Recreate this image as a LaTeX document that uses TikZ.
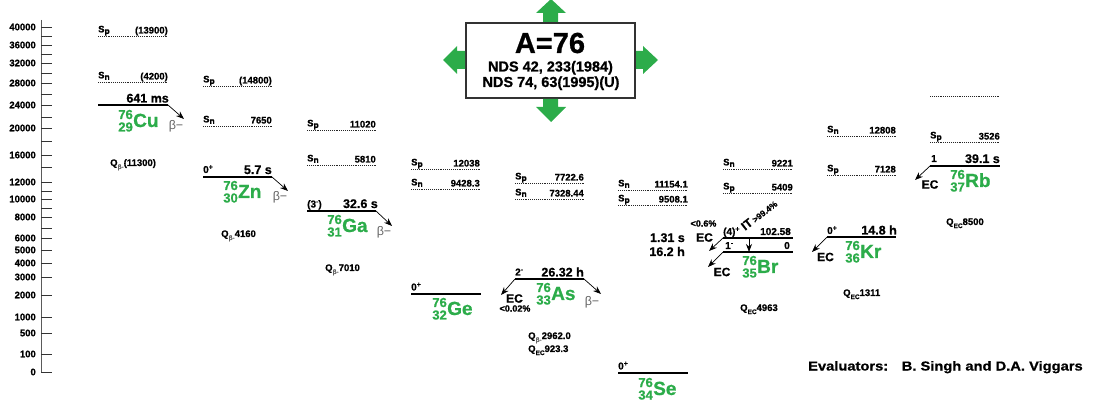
\documentclass[tikz,border=0pt]{standalone}
\usepackage{fontspec}
\setmainfont{Liberation Sans}[BoldFeatures={FakeBold=0.8}]
\usetikzlibrary{arrows.meta}
\definecolor{nucgreen}{RGB}{44,172,74}
\definecolor{betagray}{RGB}{100,100,100}
\definecolor{axisgray}{RGB}{90,90,90}
\definecolor{boxgray}{RGB}{50,50,50}
\newcommand\lowsub[1]{\raisebox{-0.3ex}{\fontsize{8.5}{9}\selectfont #1}}
\newcommand\qsubg[1]{\raisebox{-0.6ex}{\fontsize{6.5}{7}\selectfont\color{betagray}#1}}
\newcommand\qsub[1]{\raisebox{-0.6ex}{\fontsize{6.5}{7}\selectfont #1}}
\newcommand\upsup[1]{\raisebox{0.7ex}{\fontsize{7}{8}\selectfont #1}}
\tikzset{
  level/.style={line width=1.2pt, black},
  sepdots/.style={line width=0.8pt, black!85, dash pattern=on 0.8pt off 1.1pt},
  decay/.style={line width=0.7pt, black, -{Stealth[length=8pt,width=6pt]}},
  val/.style={font=\fontsize{9.5}{10}\selectfont\bfseries, inner sep=0},
  spin/.style={font=\fontsize{10}{11}\selectfont\bfseries, inner sep=0},
  hl/.style={font=\fontsize{12.5}{13}\selectfont\bfseries, inner sep=0},
  nucsym/.style={font=\fontsize{19}{20}\selectfont\bfseries, text=nucgreen, inner sep=0},
  nucnum/.style={font=\fontsize{13}{14}\selectfont\bfseries, text=nucgreen, inner sep=0},
  betalbl/.style={font=\fontsize{12.5}{13}\selectfont, text=betagray, inner sep=0},
  eclbl/.style={font=\fontsize{12}{13}\selectfont\bfseries, inner sep=0},
  pct/.style={font=\fontsize{9}{10}\selectfont\bfseries, inner sep=0},
  qlbl/.style={font=\fontsize{9.5}{10}\selectfont\bfseries, inner sep=0},
  ticklbl/.style={font=\fontsize{9.5}{10}\selectfont\bfseries, inner sep=0, anchor=east},
  axisline/.style={line width=1pt, axisgray},
  tickline/.style={line width=0.9pt, black!80},
}
\newcommand\sepmark[6]{%
  \coordinate (#1-l) at (#3,#2); \coordinate (#1-r) at (#4,#2);
  \draw[sepdots] (#1-l) -- (#1-r);
  \node[val, anchor=base west] (#1-lab) at ([yshift=3.6pt]#1-l) {#5};
  \node[val, anchor=base east] (#1-val) at ([yshift=2.5pt]#1-r) {#6};
}
\newcommand\lev[4]{%
  \coordinate (#1-l) at (#3,#2); \coordinate (#1-r) at (#4,#2);
  \draw[level] (#1-l) -- (#1-r);
}
\newcommand\nuclide[5]{%
  \node[nucsym, anchor=base west] (#1) at #2 {#5};
  \node[nucnum, anchor=base east] (#1-A) at ([yshift=8pt]#1.base west) {#3};
  \node[nucnum, anchor=base east] (#1-Z) at ([yshift=-4.5pt]#1.base west) {#4};
}
\begin{document}
\begin{tikzpicture}[x=1pt,y=-1pt]
\useasboundingbox (0,0) rectangle (1096,406);
% axis
\coordinate (ax-top) at (41,20); \coordinate (ax-bot) at (41,372);
\draw[axisline] (ax-top) -- (ax-bot);
\foreach \yy/\lab in {27/40000,45/36000,63/32000,83/28000,105/24000,128/20000,155/16000,182/12000,199/10000,217/8000,238/6000,250/5000,263/4000,277/3000,295/2000,317/1000,333/500,354/100,372/0}{
  \draw[tickline] (41,\yy) -- (52,\yy);
  \node[ticklbl] at (36,\yy) {\lab};
}
\foreach \yy in {36,54,73,94,117,141,167,191,208,228}{
  \draw[tickline] (41,\yy) -- (52,\yy);
}
% ---------- Cu
\sepmark{cusp}{36}{98}{168}{S\lowsub{p}}{(13900)}
\sepmark{cusn}{82}{98}{168}{S\lowsub{n}}{(4200)}
\lev{cu}{105}{98}{168}
\node[hl, anchor=base east] (cu-hl) at ([yshift=2.5pt,xshift=1pt]cu-r) {641 ms};
\nuclide{cun}{(133,127)}{76}{29}{Cu}
\coordinate (cu-e) at (184,119); \draw[decay] (cu-r) -- (cu-e);
\node[betalbl] (cu-b) at (176,126) {β−};
\node[qlbl, anchor=base west] (cu-q) at (110,166) {Q\qsubg{β-}(11300)};
% ---------- Zn
\sepmark{znsp}{86}{203}{272}{S\lowsub{p}}{(14800)}
\sepmark{znsn}{126}{203}{272}{S\lowsub{n}}{7650}
\lev{zn}{177}{203}{272}
\node[spin, anchor=base west] (zn-sp) at ([yshift=4pt]zn-l) {0\upsup{+}};
\node[hl, anchor=base east] (zn-hl) at ([yshift=3pt]zn-r) {5.7 s};
\nuclide{znn}{(238,198)}{76}{30}{Zn}
\coordinate (zn-e) at (288,191); \draw[decay] (zn-r) -- (zn-e);
\node[betalbl] (zn-b) at (280,197) {β−};
\node[qlbl, anchor=base west] (zn-q) at (221,237) {Q\qsubg{β-}4160};
% ---------- Ga
\sepmark{gasp}{130}{307}{376}{S\lowsub{p}}{11020}
\sepmark{gasn}{165}{307}{376}{S\lowsub{n}}{5810}
\lev{ga}{211}{307}{376}
\node[spin, anchor=base west] (ga-sp) at ([yshift=3.5pt]ga-l) {(3\upsup{-})};
\node[hl, anchor=base east] (ga-hl) at ([yshift=3pt,xshift=2pt]ga-r) {32.6 s};
\nuclide{gan}{(342,232)}{76}{31}{Ga}
\coordinate (ga-e) at (392,226); \draw[decay] (ga-r) -- (ga-e);
\node[betalbl] (ga-b) at (384,232) {β−};
\node[qlbl, anchor=base west] (ga-q) at (325,271) {Q\qsubg{β-}7010};
% ---------- Ge
\sepmark{gesp}{169}{411}{480}{S\lowsub{p}}{12038}
\sepmark{gesn}{189}{411}{480}{S\lowsub{n}}{9428.3}
\lev{ge}{294}{411}{481}
\node[spin, anchor=base west] (ge-sp) at ([yshift=3.5pt]ge-l) {0\upsup{+}};
\nuclide{gen}{(447,315)}{76}{32}{Ge}
% ---------- As
\sepmark{assp}{183}{515}{584}{S\lowsub{p}}{7722.6}
\sepmark{assn}{199}{515}{584}{S\lowsub{n}}{7328.44}
\lev{as}{279}{515}{584}
\node[spin, anchor=base west] (as-sp) at ([yshift=3.5pt]as-l) {2\upsup{-}};
\node[hl, anchor=base east] (as-hl) at ([yshift=2.5pt]as-r) {26.32 h};
\nuclide{asn}{(551,300)}{76}{33}{As}
\coordinate (as-e) at (601,294); \draw[decay] (as-r) -- (as-e);
\node[betalbl] (as-b) at (592,302) {β−};
\coordinate (as-ec) at (501,295); \draw[decay] (as-l) -- (as-ec);
\node[eclbl] (as-ecl) at (514.5,298.5) {EC};
\node[pct] (as-pct) at (515,308.5) {<0.02\%};
\node[qlbl, anchor=base west] (as-q1) at (528,339) {Q\qsubg{β-}2962.0};
\node[qlbl, anchor=base west] (as-q2) at (528,352) {Q\qsub{EC}923.3};
% ---------- Se
\sepmark{sesn}{190}{618}{688}{S\lowsub{n}}{11154.1}
\sepmark{sesp}{205}{618}{688}{S\lowsub{p}}{9508.1}
\lev{se}{373}{618}{688}
\node[spin, anchor=base west] (se-sp) at ([yshift=3.5pt]se-l) {0\upsup{+}};
\nuclide{sen}{(653,395)}{76}{34}{Se}
\node[hl, anchor=base east] (se-h1) at (685,242) {1.31 s};
\node[hl, anchor=base east] (se-h2) at (685,256) {16.2 h};
% ---------- Br
\sepmark{brsn}{169}{723}{793}{S\lowsub{n}}{9221}
\sepmark{brsp}{193}{723}{793}{S\lowsub{p}}{5409}
\lev{brm}{238}{723}{793}
\lev{brg}{252}{723}{793}
\node[spin, anchor=base west] (brm-sp) at ([yshift=3pt]brm-l) {(4)\upsup{+}};
\node[spin, anchor=base east] (brm-en) at ([yshift=3pt,xshift=-2pt]brm-r) {102.58};
\node[spin, anchor=base west] (brg-sp) at ([yshift=3pt,xshift=2pt]brg-l) {1\upsup{-}};
\node[spin, anchor=base east] (brg-en) at ([yshift=3pt,xshift=-3pt]brg-r) {0};
\coordinate (brm-it) at (749,238); \coordinate (brg-it) at (749,252);
\draw[decay] (brm-it) -- (brg-it);
\node[inner sep=0, anchor=base west, rotate=38] (br-itl) at (745,231) {\fontsize{12}{13}\selectfont\bfseries IT\,\fontsize{8.5}{9}\selectfont >99.4\%};
\coordinate (brm-ec) at (709,251); \draw[decay] (brm-l) -- (brm-ec);
\coordinate (brg-ec) at (708,267); \draw[decay] (brg-l) -- (brg-ec);
\node[pct] (br-pct) at (703.5,223.5) {<0.6\%};
\node[eclbl] (brm-ecl) at (704.5,237.5) {EC};
\node[eclbl] (brg-ecl) at (722,272) {EC};
\nuclide{brn}{(757,273)}{76}{35}{Br}
\node[qlbl, anchor=base west] (br-q) at (740,311) {Q\qsub{EC}4963};
% ---------- Kr
\sepmark{krsn}{136}{827}{896}{S\lowsub{n}}{12808}
\sepmark{krsp}{175}{827}{896}{S\lowsub{p}}{7128}
\lev{kr}{237}{827}{896}
\node[spin, anchor=base west] (kr-sp) at ([yshift=3pt]kr-l) {0\upsup{+}};
\node[hl, anchor=base east] (kr-hl) at ([yshift=2.5pt,xshift=1pt]kr-r) {14.8 h};
\coordinate (kr-ec) at (812,252); \draw[decay] (kr-l) -- (kr-ec);
\node[eclbl] (kr-ecl) at (825.5,257) {EC};
\nuclide{krn}{(860,258)}{76}{36}{Kr}
\node[qlbl, anchor=base west] (kr-q) at (843,296) {Q\qsub{EC}1311};
% ---------- Rb
\coordinate (rbx-l) at (930,96); \coordinate (rbx-r) at (1000,96);
\draw[sepdots] (rbx-l) -- (rbx-r);
\sepmark{rbsp}{142}{930}{1000}{S\lowsub{p}}{3526}
\lev{rb}{166}{930}{1000}
\node[spin, anchor=base west] (rb-sp) at ([yshift=4pt,xshift=1pt]rb-l) {1};
\node[hl, anchor=base east] (rb-hl) at ([yshift=3pt]rb-r) {39.1 s};
\coordinate (rb-ec) at (915,180); \draw[decay] (rb-l) -- (rb-ec);
\node[eclbl] (rb-ecl) at (930,184.5) {EC};
\nuclide{rbn}{(965,187)}{76}{37}{Rb}
\node[qlbl, anchor=base west] (rb-q) at (946,225) {Q\qsub{EC}8500};
% ---------- title box
\node[draw=boxgray, line width=1.3pt, minimum width=169pt, minimum height=75pt, inner sep=0] (title) at (550.5,60.5) {};
\node[inner sep=0, anchor=base, font=\fontsize{29}{30}\selectfont\bfseries] (title-a) at (550,53) {A=76};
\node[inner sep=0, anchor=base, font=\fontsize{14.5}{15}\selectfont\bfseries] (title-r1) at (550.5,71.5) {NDS 42, 233(1984)};
\node[inner sep=0, anchor=base, font=\fontsize{14.5}{15}\selectfont\bfseries] (title-r2) at (551,87) {NDS 74, 63(1995)(U)};
\fill[nucgreen] (543,22) -- (543,13) -- (536,13) -- (551,-1) -- (566,13) -- (558,13) -- (558,22) -- cycle;
\fill[nucgreen] (543,99) -- (543,107) -- (536,107) -- (551,122) -- (566,107) -- (558,107) -- (558,99) -- cycle;
\fill[nucgreen] (465,51) -- (457,51) -- (457,46) -- (443,60) -- (457,74) -- (457,69) -- (465,69) -- cycle;
\fill[nucgreen] (636,51) -- (643,51) -- (643,46) -- (658,60) -- (643,74) -- (643,69) -- (636,69) -- cycle;
% ---------- evaluators
\node[inner sep=0, anchor=base west, font=\fontsize{13}{14}\selectfont\bfseries] (evals) at (808,370.5) {\scalebox{1.13}[1]{Evaluators:\hspace{12pt}B. Singh and D.A. Viggars}};
\end{tikzpicture}
\end{document}
